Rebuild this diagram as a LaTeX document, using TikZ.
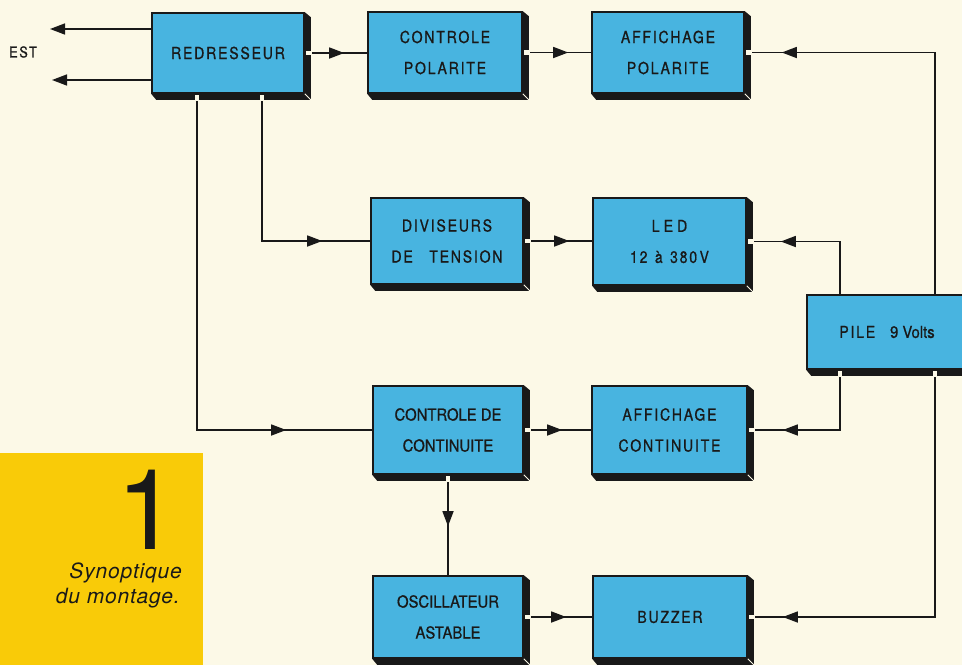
\documentclass[tikz,border=0pt]{standalone}
\usepackage{fontspec}
\setmainfont{TeX Gyre Heros}
\newfontfamily\spacedcaps[FakeStretch=0.85,LetterSpace=11,FakeBold=0.8]{TeX Gyre Heros}
\newfontfamily\narrowcaps[FakeStretch=0.9,FakeBold=0.8]{TeX Gyre Heros}
\newfontfamily\captionfont[LetterSpace=4]{TeX Gyre Heros}
\usetikzlibrary{arrows.meta,decorations.markings,calc}

\definecolor{paper}{RGB}{252,249,231}
\definecolor{boxblue}{RGB}{72,180,224}
\definecolor{panel}{RGB}{249,203,8}
\definecolor{ink}{RGB}{25,25,25}

\pgfdeclarelayer{back}
\pgfdeclarelayer{wires}
\pgfsetlayers{back,wires,main}

% dark extrusion on the right and bottom of a block
\newcommand\blockdepth[1]{%
  \fill[ink] (#1.north east) -- ++(6,5) -- ($(#1.south east)+(6,6)$)
    -- ($(#1.south west)+(5,6)$) -- (#1.south west) -- (#1.south east) -- cycle;
  \draw[paper, line width=0.9pt] (#1.south east) -- ++(6,6);}
% light gaps where a wire crosses the extrusion
\newcommand\hgap[1]{\fill[paper] ($(#1)+(1.2,-2.3)$) rectangle ++(6,4.6);}
\newcommand\vgap[1]{\fill[paper] ($(#1)+(-2.3,1.2)$) rectangle ++(4.6,6);}

\tikzset{
  block/.style={draw=ink, line width=1.6pt, fill=boxblue, minimum width=152pt,
    minimum height=82pt, inner sep=0pt, align=center, text=ink,
    font=\spacedcaps\fontsize{16.5}{31}\selectfont},
  narrow/.style={font=\narrowcaps\fontsize{16.5}{31}\selectfont},
  wire/.style={draw=ink, line width=1.5pt},
  tip/.style={-{Triangle[length=15pt,width=11pt]}},
  arr/.style={postaction=decorate, decoration={markings,
    mark=at position -#1 with {\arrow{Triangle[length=15pt,width=11pt]}}}}
}

\begin{document}
\begin{tikzpicture}[x=1pt, y=-1pt]
\useasboundingbox (0,0) rectangle (962,665);
\begin{pgfonlayer}{back}
  \fill[paper] (0,0) rectangle (962,665);
  \fill[panel] (0,453) rectangle (203,665);
\end{pgfonlayer}

% caption panel
\node[anchor=base east, inner sep=0pt, text=ink, font=\fontsize{112}{112}\selectfont] (num) at (179,549) {1};
\node[anchor=base east, inner sep=0pt, text=ink, font=\captionfont\itshape\fontsize{21}{25}\selectfont] (cap1) at (182,578) {Synoptique};
\node[anchor=base east, inner sep=0pt, text=ink, font=\captionfont\itshape\fontsize{21}{25}\selectfont] (cap2) at (180,603) {du montage.};

\node[text=ink, inner sep=0pt, font=\spacedcaps\fontsize{15}{15}\selectfont] (est) at (23,52) {EST};

% blocks
\node[block, minimum height=80pt] (red) at (228,53) {REDRESSEUR};
\node[block, minimum width=154pt, minimum height=81pt] (cpol) at (445,52.5) {CONTROLE\\POLARITE};
\node[block, minimum height=81pt] (apol) at (668,52.5) {AFFICHAGE\\POLARITE};
\node[block, minimum height=86pt] (div) at (447,241) {DIVISEURS\\DE\hspace{1em}TENSION};
\node[block, minimum width=153pt, minimum height=87pt] (led) at (669.5,241.5) {L\hspace{0.25em}E\hspace{0.25em}D\\12\hspace{0.45em}à\hspace{0.45em}380\hspace{0.15em}V};
\node[block, minimum width=160pt, minimum height=74pt] (pile) at (887,332) {PILE\hspace{0.9em}{\narrowcaps 9 Volts}};
\node[block, narrow, minimum width=150pt, minimum height=88pt] (cdc) at (448,430) {CONTROLE DE\\CONTINUITE};
\node[block, minimum width=155pt, minimum height=88pt] (acont) at (669.5,430) {AFFICHAGE\\CONTINUITE};
\node[block, narrow, minimum width=150pt] (osc) at (448,617) {OSCILLATEUR\\ASTABLE};
\node[block, minimum width=154pt] (buz) at (670,617) {BUZZER};

\foreach \b in {red,cpol,apol,div,led,pile,cdc,acont,osc,buz} {\blockdepth{\b}}

% wire positions
\coordinate (rx1) at (197,0);
\coordinate (rx2) at (262,0);
\coordinate (px1) at (840,0);
\coordinate (px2) at (935,0);
\coordinate (est1) at (50,29);
\coordinate (est2) at (52,80);
\coordinate (rs1) at (red.south -| rx1);
\coordinate (rs2) at (red.south -| rx2);
\coordinate (ps1) at (pile.south -| px1);
\coordinate (ps2) at (pile.south -| px2);

\begin{pgfonlayer}{wires}
  \draw[wire, tip] (red.west |- est1) -- (est1);
  \draw[wire, tip] (red.west |- est2) -- (est2);
  \draw[wire, arr=23pt] (red.east) -- (red.east -| cpol.west);
  \draw[wire, arr=23pt] (cpol.east) -- (cpol.east -| apol.west);
  \draw[wire, arr=37pt] (pile.north -| px2) |- (apol.east);
  \draw[wire, arr=48pt] (rs2) |- (div.west);
  \draw[wire, arr=23pt] (div.east) -- (div.east -| led.west);
  \draw[wire, arr=34pt] (pile.north -| px1) |- (led.east);
  \draw[wire, arr=86pt] (rs1) |- (cdc.west);
  \draw[wire, arr=29pt] (cdc.east) -- (cdc.east -| acont.west);
  \draw[wire, arr=35pt] (ps1) |- (acont.east);
  \draw[wire, arr=49pt] (cdc.south) -- (osc.north);
  \draw[wire, arr=26pt] (osc.east) -- (osc.east -| buz.west);
  \draw[wire, arr=35pt] (ps2) |- (buz.east);
\end{pgfonlayer}

% gaps in the extrusions
\hgap{red.east}\hgap{cpol.east}\hgap{apol.east}\hgap{div.east}\hgap{led.east}
\hgap{cdc.east}\hgap{acont.east}\hgap{osc.east}\hgap{buz.east}
\vgap{rs1}\vgap{rs2}\vgap{ps1}\vgap{ps2}\vgap{cdc.south}
\end{tikzpicture}
\end{document}
